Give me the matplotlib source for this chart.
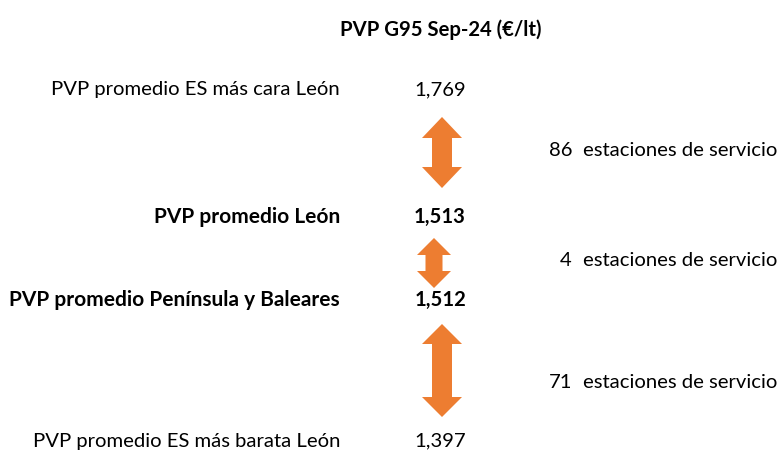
import matplotlib.pyplot as plt
from matplotlib.patches import Polygon

plt.rcParams["font.family"] = ["Lato", "DejaVu Sans"]

# data
row_labels = [
    "PVP promedio ES más cara León",
    "PVP promedio León",
    "PVP promedio Península y Baleares",
    "PVP promedio ES más barata León",
]
row_bold = [False, True, True, False]
prices = [1.769, 1.513, 1.512, 1.397]
station_counts = [86, 4, 71]
title = "PVP G95 Sep-24 (€/lt)"

# layout (pixels, y down)
row_y = [90, 217, 300, 441]
count_y = [151, 261, 383]
arrows = [  # (cx, top, bottom, head half-width, shaft half-width, head length)
    (442, 117, 188, 20, 10, 21),
    (434, 238, 288, 17, 8.5, 17),
    (442, 324, 417, 20, 10, 20),
]
ORANGE = "#ED7D31"
FS = 14.6

fig = plt.figure(figsize=(7.8, 4.54), dpi=100)
ax = fig.add_axes([0, 0, 1, 1])
ax.set_xlim(0, 780)
ax.set_ylim(454, 0)
ax.set_axis_off()

ax.text(441, 30, title, ha="center", va="center", fontsize=FS, fontweight="bold")

for lab, bold, p, y in zip(row_labels, row_bold, prices, row_y):
    w = "bold" if bold else "normal"
    ax.text(340, y, lab, ha="right", va="center", fontsize=FS + (0.4 if bold else 0),
            fontweight=w)
    ax.text(466, y, f"{p:.3f}".replace(".", ","), ha="right", va="center",
            fontsize=FS, fontweight=w)

for (cx, top, bot, hw, sw, hl) in arrows:
    pts = [
        (cx, top), (cx + hw, top + hl), (cx + sw, top + hl), (cx + sw, bot - hl),
        (cx + hw, bot - hl), (cx, bot), (cx - hw, bot - hl), (cx - sw, bot - hl),
        (cx - sw, top + hl), (cx - hw, top + hl),
    ]
    ax.add_patch(Polygon(pts, closed=True, facecolor=ORANGE, edgecolor="none"))

for n, y in zip(station_counts, count_y):
    ax.text(572, y, str(n), ha="right", va="center", fontsize=FS)
    ax.text(583, y, "estaciones de servicio", ha="left", va="center", fontsize=FS)

fig.savefig("out.png", dpi=100)
